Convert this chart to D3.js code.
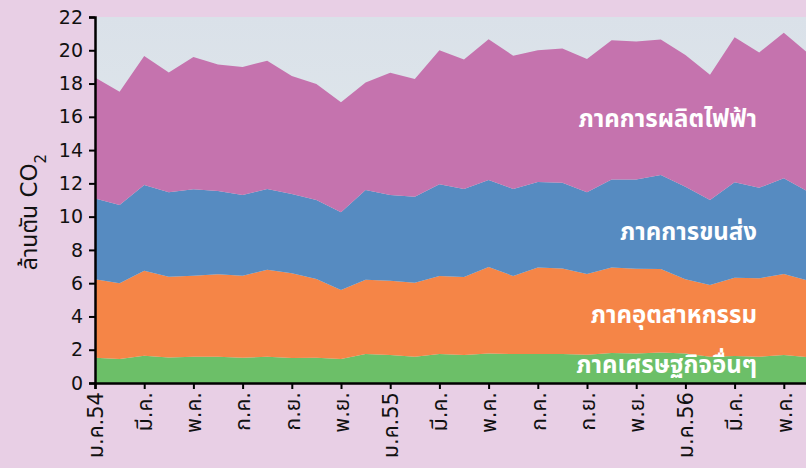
<!DOCTYPE html>
<html>
<head>
<meta charset="utf-8">
<script src="https://cdn.jsdelivr.net/npm/d3@7"></script>
<style>
  body { margin: 0; background: #e8cfe5; }
  svg { display: block; }
  text { font-family: "DejaVu Sans", "Noto Sans Thai", "Noto Sans", sans-serif; }
</style>
</head>
<body>
<svg id="chart" width="806" height="468"></svg>
<script>
// Monthly CO2 emissions, Jan 2011 - Jun 2013 (million tonnes)
const months = ["ม.ค.54","ก.พ.","มี.ค.","เม.ย.","พ.ค.","มิ.ย.","ก.ค.","ส.ค.","ก.ย.","ต.ค.","พ.ย.","ธ.ค.",
  "ม.ค.55","ก.พ.","มี.ค.","เม.ย.","พ.ค.","มิ.ย.","ก.ค.","ส.ค.","ก.ย.","ต.ค.","พ.ย.","ธ.ค.",
  "ม.ค.56","ก.พ.","มี.ค.","เม.ย.","พ.ค.","มิ.ย."];
const others = [1.52,1.44,1.64,1.54,1.58,1.58,1.52,1.58,1.50,1.52,1.44,1.74,1.68,1.58,1.74,1.68,1.78,1.74,1.74,1.74,1.70,1.80,1.78,1.84,1.78,1.58,1.62,1.58,1.68,1.55];
const industry = [4.71,4.55,5.11,4.85,4.87,4.95,4.93,5.23,5.09,4.73,4.15,4.47,4.47,4.45,4.69,4.69,5.19,4.69,5.21,5.15,4.85,5.15,5.09,5.01,4.45,4.31,4.71,4.71,4.87,4.60];
const transport = [4.86,4.71,5.15,5.07,5.19,5.01,4.85,4.85,4.77,4.75,4.67,5.39,5.15,5.17,5.51,5.29,5.23,5.23,5.13,5.15,4.91,5.28,5.36,5.65,5.57,5.11,5.73,5.45,5.75,5.35];
const power = [7.28,6.80,7.75,7.21,7.95,7.61,7.70,7.71,7.09,6.97,6.61,6.47,7.35,7.07,8.06,7.79,8.47,8.01,7.92,8.06,8.01,8.38,8.30,8.15,7.91,7.53,8.73,8.13,8.75,8.30];
const yTicks = [0,2,4,6,8,10,12,14,16,18,20,22];

const seriesKeys = ["others","industry","transport","power"];
const seriesColors = {others:"#6cbf68", industry:"#f58547", transport:"#568bc1", power:"#c573ae"};
const seriesLabels = {others:"ภาคเศรษฐกิจอื่นๆ", industry:"ภาคอุตสาหกรรม", transport:"ภาคการขนส่ง", power:"ภาคการผลิตไฟฟ้า"};
const labelY = {others:0.6, industry:3.6, transport:8.6, power:15.4};

const rows = months.map((m, i) => ({
  i: i, others: others[i], industry: industry[i], transport: transport[i], power: power[i]
}));

const svg = d3.select("#chart");
const margin = {left: 95, top: 17, bottom: 383};

const x = d3.scaleLinear().domain([0, months.length - 1]).range([margin.left, margin.left + 24.6 * (months.length - 1)]);
const y = d3.scaleLinear().domain([0, 22]).range([margin.bottom, margin.top]);

// plot background gradient
const grad = svg.append("defs").append("linearGradient")
  .attr("id", "bg").attr("x1", 0).attr("y1", 0).attr("x2", 0).attr("y2", 1);
grad.append("stop").attr("offset", "0%").attr("stop-color", "#dae1e9");
grad.append("stop").attr("offset", "100%").attr("stop-color", "#e6eeee");

svg.append("rect")
  .attr("x", margin.left).attr("y", margin.top)
  .attr("width", 806 - margin.left).attr("height", margin.bottom - margin.top)
  .attr("fill", "url(#bg)");

const stack = d3.stack().keys(seriesKeys);
const layers = stack(rows);

const area = d3.area()
  .x(d => x(d.data.i))
  .y0(d => y(d[0]))
  .y1(d => y(d[1]));

svg.selectAll(".layer")
  .data(layers)
  .enter()
  .append("path")
  .attr("class", "layer")
  .attr("fill", d => seriesColors[d.key])
  .attr("d", area);

// series labels
seriesKeys.forEach(k => {
  svg.append("text")
    .attr("x", 757)
    .attr("y", y(labelY[k]))
    .attr("text-anchor", "end")
    .attr("fill", "#fff")
    .style("font-size", "24px")
    .style("font-weight", "bold")
    .text(seriesLabels[k]);
});

// axes
const yAxis = d3.axisLeft(y).tickValues(yTicks).tickSize(6).tickPadding(6);
const gy = svg.append("g").attr("transform", `translate(${margin.left},0)`).call(yAxis);
gy.selectAll("text").style("font-size", "19px").attr("fill", "#111");

const xAxis = d3.axisBottom(x)
  .tickValues(d3.range(0, months.length, 2))
  .tickFormat(i => months[i])
  .tickSize(6);
const gx = svg.append("g").attr("transform", `translate(0,${margin.bottom})`).call(xAxis);
gx.selectAll("text")
  .style("font-size", "21px")
  .attr("fill", "#111")
  .attr("transform", "rotate(-90)")
  .attr("text-anchor", "end")
  .attr("x", -9)
  .attr("y", 0)
  .attr("dy", "0.35em");

[gx, gy].forEach(g => {
  g.select(".domain").attr("stroke", "#000").attr("stroke-width", 2.5);
  g.selectAll(".tick line").attr("stroke", "#000").attr("stroke-width", 2);
});

// y axis title
svg.append("text")
  .attr("transform", "translate(37,212) rotate(-90)")
  .attr("text-anchor", "middle")
  .style("font-size", "23px")
  .attr("fill", "#111")
  .html('ล้านตัน CO<tspan baseline-shift="sub" font-size="15px">2</tspan>');
</script>
</body>
</html>
